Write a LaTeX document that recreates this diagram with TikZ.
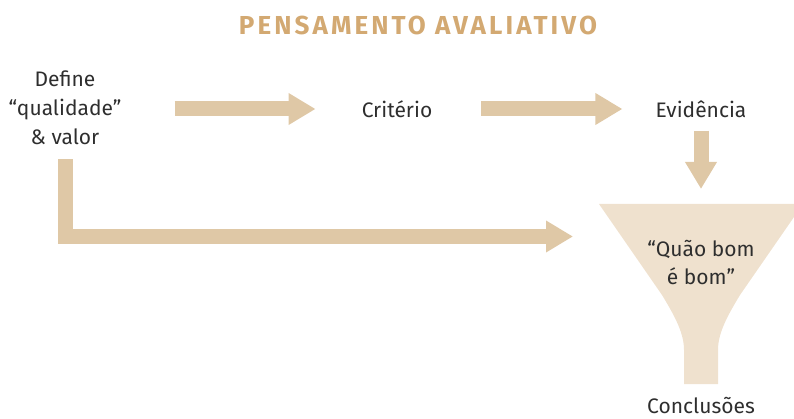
\documentclass[tikz,border=0pt]{standalone}
\usepackage{fontspec}
\setmainfont{Fira Sans}
\usetikzlibrary{arrows.meta}
\definecolor{arrowtan}{HTML}{DFC8A6}
\definecolor{funneltan}{HTML}{EFE1CE}
\definecolor{titletan}{HTML}{D3A972}
\definecolor{textgray}{HTML}{2E2E2E}
\tikzset{
  title text/.style={text=titletan, font=\fontsize{26}{30}\selectfont\bfseries\addfontfeatures{LetterSpace=12}, inner sep=0pt},
  step text/.style={text=textgray, font=\fontsize{21}{29}\selectfont, align=center, inner sep=0pt},
  flow arrow/.style={draw=arrowtan, line width=15pt, -{Triangle[length=27pt, width=30pt]}},
  funnel body/.style={fill=funneltan},
}

\begin{document}
\begin{tikzpicture}[x=1pt, y=-1pt]
  \useasboundingbox (0,0) rectangle (794,419);
  % funnel
  \fill[funnel body] (599,204) -- (794,204) -- (794,217) -- (740,295)
    .. controls (726,318) and (718,334) .. (718,350) -- (718,384) -- (684,384) -- (684,350)
    .. controls (684,334) and (676,318) .. (662,295) -- cycle;
  \coordinate (funneltop) at (701,204);
  \coordinate (funnelin) at (621,236.5);

  \node[title text] (title) at (418,25) {PENSAMENTO AVALIATIVO};
  \node[step text] (defn) at (65,108) {Define\\“qualidade”\\\& valor};
  \node[step text] (crit) at (397,109) {Critério};
  \node[step text] (evid) at (701,109) {Evidência};
  \node[step text, font=\fontsize{21}{28}\selectfont] (quao) at (701,262) {“Quão bom\\é bom”};
  \node[step text] (concl) at (701,405) {Conclusões};

  \draw[flow arrow, shorten <=53pt, shorten >=46pt] (defn.east |- crit.west) -- (crit.west);
  \draw[flow arrow, shorten <=49pt, shorten >=33pt] (crit.east) -- (evid.west);
  \draw[flow arrow, shorten <=13pt, shorten >=15pt] (evid.south) -- (funneltop);
  \draw[flow arrow, shorten <=14pt, shorten >=48pt] (defn.south) |- (funnelin);
\end{tikzpicture}
\end{document}
